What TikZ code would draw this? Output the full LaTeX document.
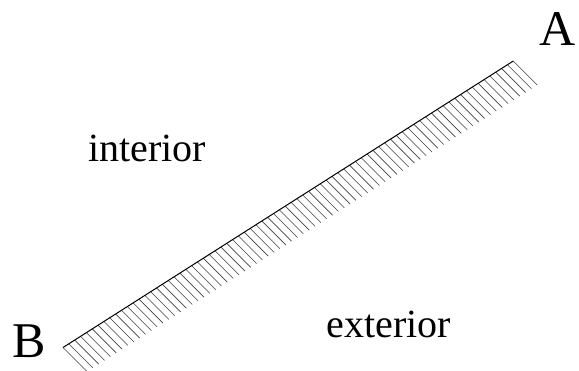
\documentclass[tikz,border=0pt]{standalone}
\usepackage{fontspec}
\setmainfont{Liberation Serif}
\usetikzlibrary{calc}
\tikzset{
  wall/.style={draw=black, line width=1pt},
  hatchline/.style={draw=black!75, line width=0.6pt},
  biglabel/.style={inner sep=0pt, anchor=base west, font=\fontsize{50}{56}\selectfont},
  regionlabel/.style={inner sep=0pt, anchor=base west, font=\fontsize{40}{46}\selectfont}
}
\begin{document}
\begin{tikzpicture}[x=1pt, y=-1pt]
  \useasboundingbox (0,0) rectangle (579,370);
  \begin{scope}
    \clip (0,0) rectangle (579,370);
    \coordinate (A) at (513.3,61);
    \coordinate (B) at (63,347.5);
    \foreach \i in {0,...,77} {
      \pgfmathsetmacro{\t}{\i/77}
      \draw[hatchline] ($(B)!\t!(A)$) -- ++(24,24);
    }
    \draw[wall] (B) -- (A);
  \end{scope}
  \node[biglabel] (labA) at (539,45) {A};
  \node[biglabel] (labB) at (12,357) {B};
  \node[regionlabel] (interior) at (88,161.7) {interior};
  \node[regionlabel] (exterior) at (326.5,337.3) {exterior};
\end{tikzpicture}
\end{document}
